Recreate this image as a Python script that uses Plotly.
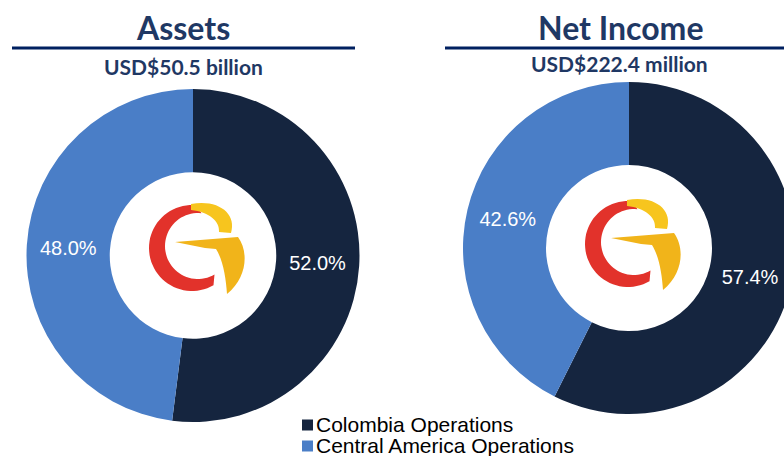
import numpy as np
import plotly.graph_objects as go

# ---- data ----
segments = ["Colombia Operations", "Central America Operations"]
assets_share = [52.0, 48.0]
income_share = [57.4, 42.6]
titles = ["Assets", "Net Income"]
subtitles = ["USD$50.5 billion", "USD$222.4 million"]
segment_colors = ["#15253F", "#4A7EC7"]

NAVY = "#1F3864"
LINE = "#002060"
W, H = 800, 456   # figure is a bit wider than the window so the right donut is clipped


def fx(x):
    return x / W


def fy(y):
    return 1 - y / H


fig = go.Figure()

pie_common = dict(
    hole=0.5, sort=False, direction="clockwise", rotation=0,
    marker=dict(colors=segment_colors, line=dict(width=0)),
    texttemplate="%{percent:.1%}",
    textposition="inside", insidetextorientation="horizontal",
    textfont=dict(family="Liberation Sans, Arial", size=20, color="white"),
    hoverinfo="label+percent", showlegend=False,
)

fig.add_trace(go.Pie(labels=segments, values=assets_share,
                     domain=dict(x=[fx(26.5), fx(359.5)], y=[fy(422), fy(89)]),
                     name="Assets", **pie_common))
fig.add_trace(go.Pie(labels=segments, values=income_share,
                     domain=dict(x=[fx(463), fx(795)], y=[fy(414), fy(82)]),
                     name="Net Income", **pie_common))

# titles, subtitles, rules
title_pos = [(183, 27), (620, 27)]
sub_pos = [(183, 67), (619, 63)]
for t, (x, y) in zip(titles, title_pos):
    fig.add_annotation(text="<b>%s</b>" % t, x=fx(x), y=fy(y), xref="paper", yref="paper",
                       showarrow=False, xanchor="center", yanchor="middle",
                       font=dict(family="Lato", size=32, color=NAVY))
for t, (x, y) in zip(subtitles, sub_pos):
    fig.add_annotation(text="<b>%s</b>" % t, x=fx(x), y=fy(y), xref="paper", yref="paper",
                       showarrow=False, xanchor="center", yanchor="middle",
                       font=dict(family="Lato", size=21, color=NAVY))
for x0, x1 in [(12, 355), (445, 800)]:
    fig.add_shape(type="line", xref="paper", yref="paper",
                  x0=fx(x0), x1=fx(x1), y0=fy(48), y1=fy(48),
                  line=dict(color=LINE, width=3))

# legend (squares + labels)
for i, (lab, col) in enumerate(zip(segments, segment_colors)):
    yc = 425 + 21 * i
    fig.add_shape(type="rect", xref="x", yref="y", x0=302, x1=313, y0=yc - 5.5, y1=yc + 5.5,
                  fillcolor=col, line=dict(width=0))
    fig.add_annotation(text=lab, x=fx(315), y=fy(yc - 1), xref="paper", yref="paper",
                       showarrow=False, xanchor="left", yanchor="middle", borderpad=0,
                       font=dict(family="Liberation Sans, Arial", size=21, color="black"))


# logo (decorative), drawn in an invisible pixel-coordinate axis
def arc(cx, cy, r, a0, a1, n=48):
    t = np.radians(np.linspace(a0, a1, n))
    return [(cx + r * np.cos(a), cy + r * np.sin(a)) for a in t]


def logo(cx, cy):
    outer = arc(cx - 1, cy - 4, 43, -84, -300)
    inner = arc(cx + 5, cy - 6, 33, -300, -84)
    red = "M " + " L ".join("%.1f,%.1f" % p for p in outer + inner) + " Z"

    def P(dx, dy):
        return "%.1f,%.1f" % (cx + dx, cy + dy)
    upper = ("M %s C %s %s %s L %s C %s %s %s Z" %
             (P(-2, -48), P(26, -53), P(44, -38), P(38, -19), P(26, -20),
              P(27, -31), P(16, -40), P(-2, -42)))
    lower = ("M %s L %s C %s %s %s C %s %s %s L %s Z" %
             (P(-18, -10), P(45, -15), P(56, 0), P(54, 26), P(34, 42),
              P(33, 26), P(30, 8), P(23, -3), P(12, -4)))
    return red, upper, lower


for cx, cy in [(193, 252), (629, 248)]:
    red, upper, lower = logo(cx, cy)
    fig.add_shape(type="path", path=red, xref="x", yref="y",
                  fillcolor="#E2322B", line=dict(width=0), layer="above")
    fig.add_shape(type="path", path=upper, xref="x", yref="y",
                  fillcolor="#F7C51E", line=dict(width=0), layer="above")
    fig.add_shape(type="path", path=lower, xref="x", yref="y",
                  fillcolor="#F1B41A", line=dict(width=0), layer="above")

fig.update_layout(
    width=W, height=H, margin=dict(l=0, r=0, t=0, b=0),
    paper_bgcolor="white", plot_bgcolor="rgba(0,0,0,0)",
    xaxis=dict(range=[0, W], visible=False, domain=[0, 1], fixedrange=True),
    yaxis=dict(range=[H, 0], visible=False, domain=[0, 1], fixedrange=True),
    showlegend=False,
)

fig.write_html("out.html", config={"displayModeBar": False},
               post_script="document.body.style.margin='0';document.body.style.overflow='hidden';")
